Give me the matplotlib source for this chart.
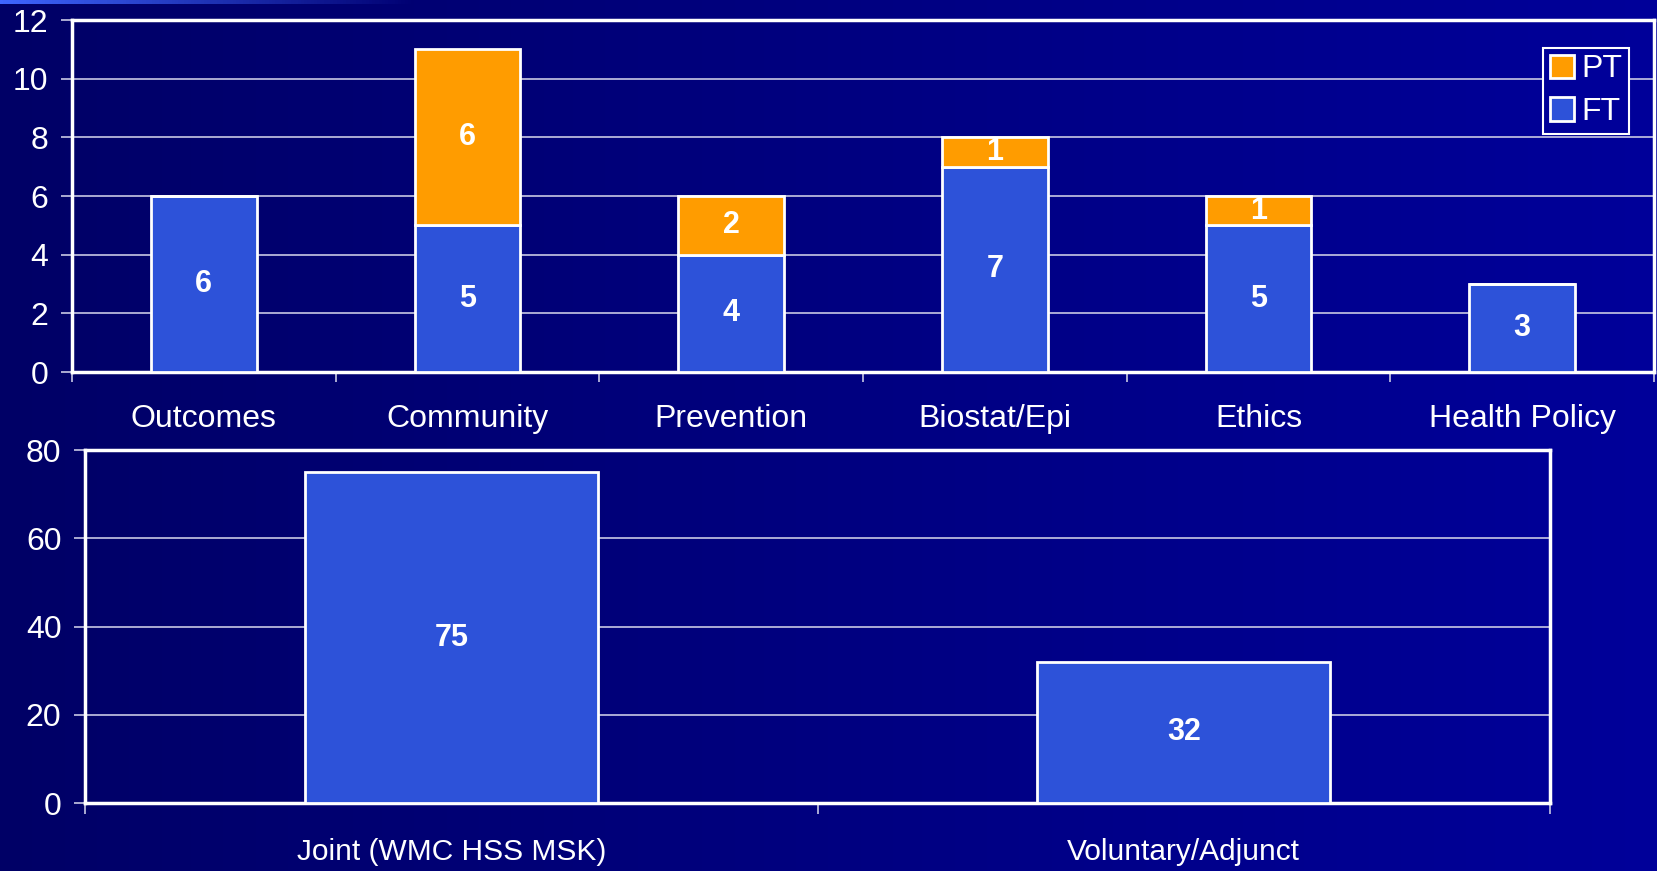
import matplotlib
matplotlib.use("Agg")
import matplotlib.pyplot as plt
import numpy as np
from matplotlib.patches import Patch

plt.rcParams['font.family'] = ['Liberation Sans', 'DejaVu Sans']

# ---- data ----
categories = ["Outcomes", "Community", "Prevention", "Biostat/Epi", "Ethics", "Health Policy"]
ft_values = [6, 5, 4, 7, 5, 3]
pt_values = [0, 6, 2, 1, 1, 0]
top_yticks = [0, 2, 4, 6, 8, 10, 12]

bottom_categories = ["Joint (WMC HSS MSK)", "Voluntary/Adjunct"]
bottom_values = [75, 32]
bottom_yticks = [0, 20, 40, 60, 80]

BLUE = "#2D52D9"
ORANGE = "#FF9C00"
WHITE = "white"
GRID = "#C8C8E4"

fig = plt.figure(figsize=(16.57, 8.71), dpi=100)

# background gradient
bg = fig.add_axes([0, 0, 1, 1], zorder=-10)
grad = np.linspace(0, 1, 512)[None, :]
left = np.array([0x00, 0x00, 0x66]) / 255
right = np.array([0x00, 0x00, 0x9A]) / 255
img = left[None, None, :] * (1 - grad[..., None]) + right[None, None, :] * grad[..., None]
bg.imshow(img, aspect='auto', extent=[0, 1, 0, 1])
# thin light strip at the top-left
strip = np.zeros((1, 512, 4))
strip[..., 0] = 0.25
strip[..., 1] = 0.4
strip[..., 2] = 1.0
strip[..., 3] = np.clip(1 - np.linspace(0, 1, 512) * 4, 0, 1)
bg.imshow(strip, aspect='auto', extent=[0, 1, 1 - 4 / 871, 1])
bg.set_xlim(0, 1)
bg.set_ylim(0, 1)
bg.axis('off')

FS = 23
VFS = 22


def style_axes(ax):
    ax.set_facecolor('none')
    for s in ['left', 'bottom', 'top', 'right']:
        ax.spines[s].set_color(WHITE)
        ax.spines[s].set_linewidth(2.5)
    ax.tick_params(axis='y', colors=GRID, labelcolor=WHITE, labelsize=FS,
                   length=8, width=1.2, direction='out', pad=9)
    ax.yaxis.grid(True, color=GRID, linewidth=1.2)
    ax.set_axisbelow(True)


# ---- top chart ----
ax1 = fig.add_axes([72 / 1657, 1 - 372 / 871, 1582 / 1657, 352 / 871])
style_axes(ax1)
x = np.arange(len(categories))
ax1.bar(x, ft_values, width=0.4, color=BLUE, edgecolor=WHITE, linewidth=2, label="FT", zorder=3)
ax1.bar(x, pt_values, width=0.4, bottom=ft_values, color=ORANGE, edgecolor=WHITE,
        linewidth=2, label="PT", zorder=3)
ax1.set_xlim(-0.5, len(categories) - 0.5)
ax1.set_ylim(0, 12)
ax1.set_yticks(top_yticks)
ax1.set_xticks(np.arange(len(categories) + 1) - 0.5)
ax1.set_xticklabels([])
ax1.set_xticks(x, minor=True)
ax1.set_xticklabels(categories, minor=True)
ax1.tick_params(axis='x', which='minor', length=0, pad=23, labelsize=FS, labelcolor=WHITE)
ax1.tick_params(axis='x', which='major', length=7, width=1.2, colors=GRID)
for i, (f, p) in enumerate(zip(ft_values, pt_values)):
    ax1.text(i, f / 2, str(f), ha='center', va='center', color=WHITE,
             fontsize=VFS, fontweight='bold', zorder=4)
    if p > 0:
        ax1.text(i, f + p / 2, str(p), ha='center', va='center', color=WHITE,
                 fontsize=VFS, fontweight='bold', zorder=4)

handles = [Patch(facecolor=ORANGE, edgecolor=WHITE, linewidth=2, label="PT"),
           Patch(facecolor=BLUE, edgecolor=WHITE, linewidth=2, label="FT")]
leg = ax1.legend(handles=handles, loc='upper right', bbox_to_anchor=(1629 / 1657, 1 - 48 / 871),
                 bbox_transform=fig.transFigure, fontsize=FS, frameon=True, fancybox=False,
                 handlelength=0.75, handleheight=0.75, handletextpad=0.25, borderpad=0.2,
                 labelspacing=0.4, labelcolor=WHITE, borderaxespad=0)
leg.get_frame().set_facecolor('#000099')
leg.get_frame().set_edgecolor(WHITE)
leg.get_frame().set_linewidth(1.5)
leg.get_frame().set_alpha(1)

# ---- bottom chart ----
ax2 = fig.add_axes([85 / 1657, 1 - 803 / 871, 1465 / 1657, 353 / 871])
style_axes(ax2)
xb = np.arange(len(bottom_categories))
ax2.bar(xb, bottom_values, width=0.4, color=BLUE, edgecolor=WHITE, linewidth=2, zorder=3)
ax2.set_xlim(-0.5, len(bottom_categories) - 0.5)
ax2.set_ylim(0, 80)
ax2.set_yticks(bottom_yticks)
ax2.set_xticks(np.arange(len(bottom_categories) + 1) - 0.5)
ax2.set_xticklabels([])
ax2.set_xticks(xb, minor=True)
ax2.set_xticklabels(bottom_categories, minor=True)
ax2.tick_params(axis='x', which='minor', length=0, pad=25, labelsize=21.5, labelcolor=WHITE)
ax2.tick_params(axis='x', which='major', length=8, width=1.2, colors=GRID)
for i, v in enumerate(bottom_values):
    ax2.text(i, v / 2, str(v), ha='center', va='center', color=WHITE,
             fontsize=VFS, fontweight='bold', zorder=4)

fig.savefig("out.png", dpi=100)
